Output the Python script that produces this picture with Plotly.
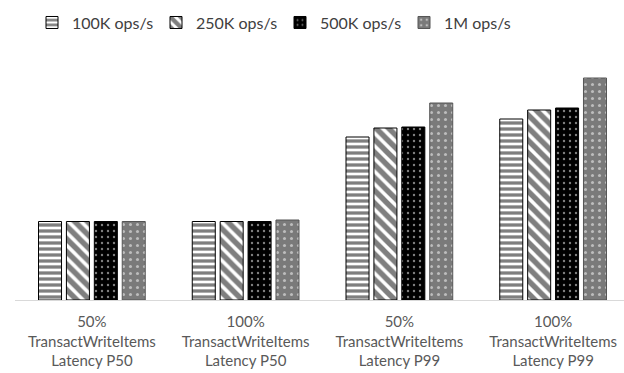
import plotly.graph_objects as go

categories = [
    "50%<br>TransactWriteItems<br>Latency P50",
    "100%<br>TransactWriteItems<br>Latency P50",
    "50%<br>TransactWriteItems<br>Latency P99",
    "100%<br>TransactWriteItems<br>Latency P99",
]
series_names = ["100K ops/s", "250K ops/s", "500K ops/s", "1M ops/s"]
v_100k = [7.85, 7.85, 16.3, 18.1]
v_250k = [7.85, 7.85, 17.2, 19.0]
v_500k = [7.85, 7.85, 17.3, 19.2]
v_1m = [7.85, 8.0, 19.7, 22.2]

patterns = [
    dict(shape="-", fgcolor="black", bgcolor="white", size=6, solidity=0.55),
    dict(shape="\\", fgcolor="black", bgcolor="white", size=9, solidity=0.6),
    dict(shape=".", fgcolor="white", bgcolor="black", size=6, solidity=0.12),
    dict(shape=".", fgcolor="white", bgcolor="#7a7a7a", size=7, solidity=0.15),
]
line_colors = ["black", "black", "black", "#555555"]

fig = go.Figure()
for name, vals, pat, lc in zip(series_names, [v_100k, v_250k, v_500k, v_1m], patterns, line_colors):
    fig.add_trace(go.Bar(
        name=name, x=categories, y=vals,
        marker=dict(color="white", pattern=pat, line=dict(color=lc, width=1)),
    ))

fig.update_layout(
    width=624, height=373,
    margin=dict(l=15, r=0, t=60, b=73),
    plot_bgcolor="white", paper_bgcolor="white",
    barmode="group", bargap=0.274, bargroupgap=0.175,
    font=dict(family="Lato", color="#595959"),
    legend=dict(orientation="h", x=32 / 624, xanchor="left", xref="container",
                y=0.985, yanchor="top", yref="container",
                font=dict(size=16, color="#404040"),
                itemwidth=30, entrywidth=79, entrywidthmode="pixels",
                traceorder="normal"),
    showlegend=True,
)
fig.update_xaxes(range=[-0.5, 3.461], showline=True, linecolor="#d9d9d9", linewidth=1,
                 ticks="", ticklabelstandoff=8,
                 tickfont=dict(size=15, color="#595959"), showgrid=False)
fig.update_yaxes(range=[0, 24.0], visible=False, showgrid=False, zeroline=False)

fig.write_html("out.html")
